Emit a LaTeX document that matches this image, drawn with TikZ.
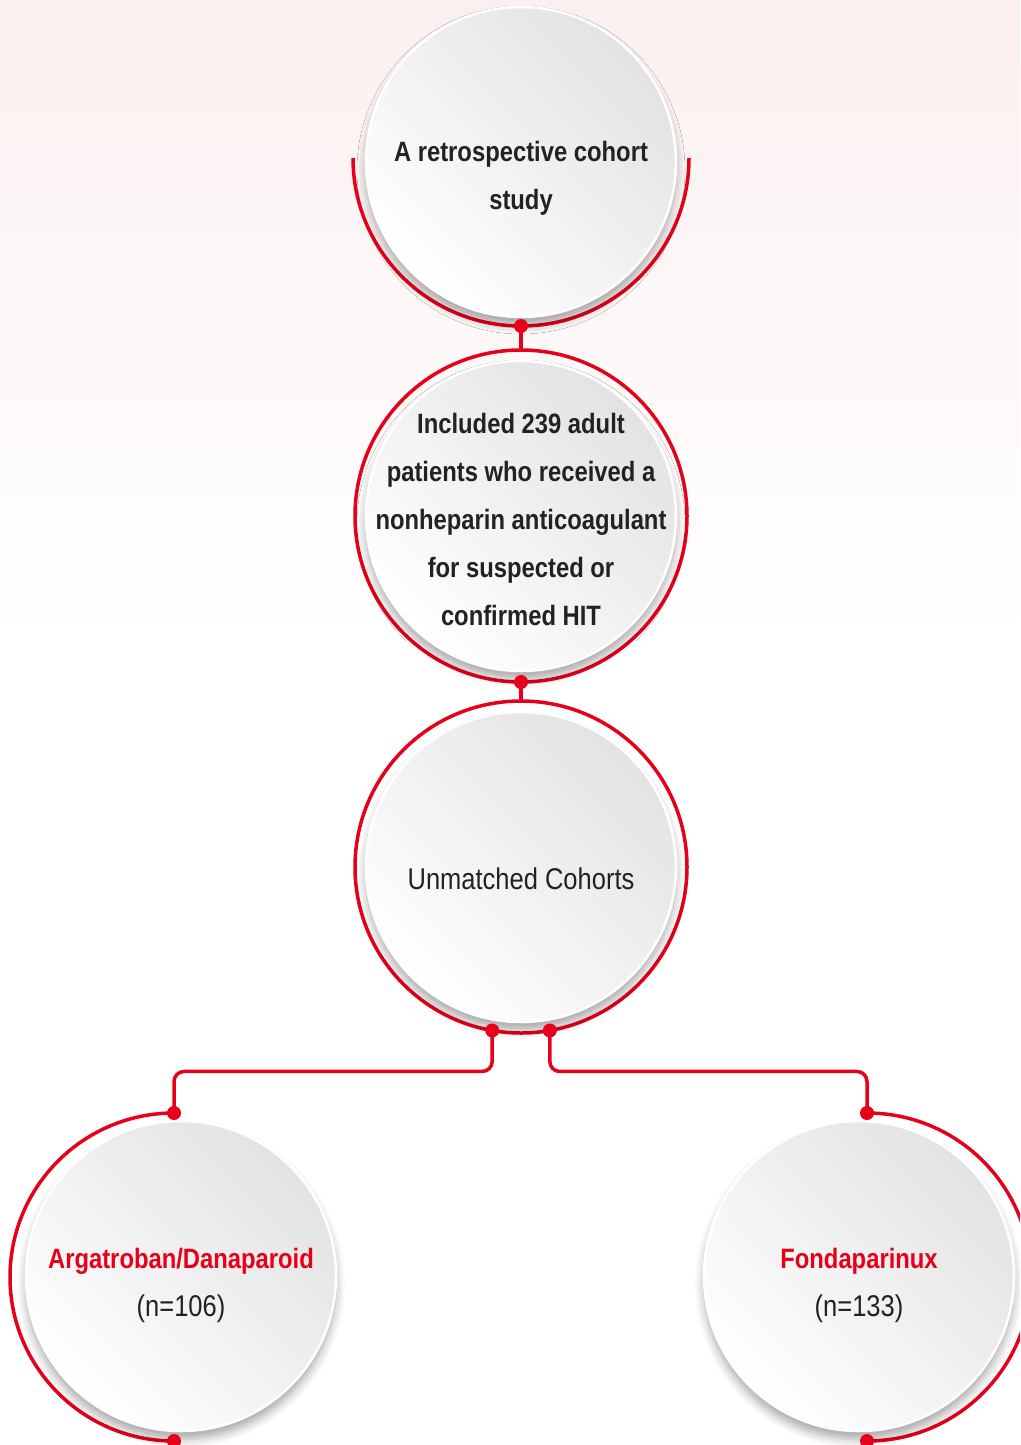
\documentclass[tikz,border=0pt]{standalone}
\usepackage{fontspec}
\setmainfont[FakeStretch=0.85]{Liberation Sans}
\usepackage{tikz}
\usetikzlibrary{positioning,calc,shadows.blur}
\definecolor{hitred}{HTML}{E6001A}
\definecolor{bgpink}{HTML}{FBF0F0}
\definecolor{inkgray}{HTML}{222222}

\begin{document}
\begin{tikzpicture}[x=1pt, y=1pt, semithick,
  disk/.style={circle, minimum size=310pt, inner sep=0pt, draw=white, line width=2.5pt,
    top color=black!11, bottom color=white, shading angle=-45,
    blur shadow={shadow xshift=0pt, shadow yshift=-8pt, shadow blur radius=9pt, shadow opacity=35}},
  ring/.style={circle, minimum size=#1, inner sep=0pt, outer sep=0pt},
  link/.style={draw=hitred, line width=3.5pt},
  txt/.style={align=center, text=inkgray, font=\fontsize{30}{48}\selectfont},
  head/.style={align=center, text=inkgray, font=\fontsize{28}{48}\selectfont\bfseries}]
\tikzstyle{every dot}=[fill=hitred]
\useasboundingbox (0,0) rectangle (1020,-1445);
\clip (0,0) rectangle (1020,-1445);
\shade[top color=bgpink, bottom color=white] (0,0) rectangle (1020,-640);

\node[ring=336pt]          (r1) at (521,-158)  {};
\node[ring=332pt,link]     (r2) at (521,-516)  {};
\node[ring=332pt,link]     (r3) at (521,-867)  {};
\node[ring=328pt]          (r4) at (174,-1277) {};
\node[ring=328pt]          (r5) at (867,-1277) {};

\draw[link] (r1.west) arc[start angle=180, end angle=360, radius=168pt];
\draw[link] (r4.north) arc[start angle=90, end angle=270, radius=164pt];
\draw[link] (r5.north) arc[start angle=90, end angle=-90, radius=164pt];

\node[disk] (1) at (521,-162)  {};
\node[disk] (2) at (521,-516)  {};
\node[disk] (3) at (521,-867)  {};
\node[disk] (4) at (181,-1276) {};
\node[disk] (5) at (859,-1276) {};

\node[head] (t1) at ([yshift=-16pt]1.center) {A retrospective cohort\\study};
\node[head] (t2) at ([yshift=-3pt]2.center)
  {Included 239 adult\\patients who received a\\nonheparin anticoagulant\\for suspected or\\confirmed HIT};
\node[txt] (t3) at ([yshift=-12pt]3.center) {Unmatched Cohorts};
\node[txt] (t4) at ([yshift=-9pt]4.center)
  {{\fontsize{28}{48}\selectfont\color{hitred}\bfseries Argatroban/Danaparoid}\\(n=106)};
\node[txt] (t5) at ([yshift=-9pt]5.center)
  {{\fontsize{28}{48}\selectfont\color{hitred}\bfseries Fondaparinux}\\(n=133)};

\draw[link] (r1.south) -- (r2.north);
\draw[link] (r2.south) -- (r3.north);
\draw[link, rounded corners=10pt] (r3.260) -- ++(0,-41) -| (r4.north);
\draw[link, rounded corners=10pt] (r3.280) -- ++(0,-41) -| (r5.north);

\foreach \p in {r1.south, r2.south, r3.260, r3.280, r4.north, r5.north, r4.south, r5.south}
  \fill[every dot] (\p) circle (7pt);
\end{tikzpicture}
\end{document}
